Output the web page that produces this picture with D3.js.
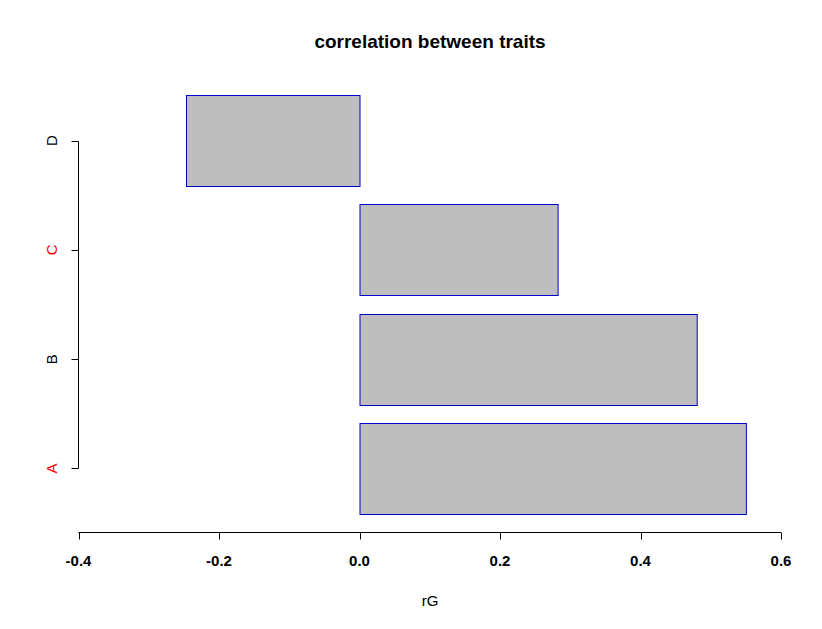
<!DOCTYPE html>
<html><head><meta charset="utf-8">
<script src="https://cdn.jsdelivr.net/npm/d3@7"></script>
<style>body{margin:0;background:#fff}svg{display:block}text{font-family:"Liberation Sans",Arial,sans-serif}</style>
</head><body>
<script>
const categories = ["A","B","C","D"];
const values = [0.55, 0.48, 0.282, -0.247];
const labelColors = ["red","black","red","black"];
const xTicks = [-0.4,-0.2,0.0,0.2,0.4,0.6];
const title = "correlation between traits";
const xLabel = "rG";

const W=822,H=629;
const svg=d3.select("body").append("svg").attr("width",W).attr("height",H);
const x=d3.scaleLinear().domain([-0.4,0.6]).range([78.5,781]);
const y=d3.scaleLinear().domain([0,4.8]).range([532.2,95]);
const barBottom=i=>0.2+1.2*i, barTop=i=>1.2+1.2*i, mid=i=>0.7+1.2*i;

svg.selectAll("rect.bar").data(values).join("rect")
  .attr("x",d=>x(Math.min(0,d))+0.5)
  .attr("y",(d,i)=>Math.round(y(barTop(i)))+0.5)
  .attr("width",d=>Math.abs(x(d)-x(0)))
  .attr("height",(d,i)=>Math.round(y(barBottom(i)))-Math.round(y(barTop(i))))
  .attr("fill","#bebebe").attr("stroke","#0000cd").attr("stroke-width",1);

// x axis
const xa=svg.append("g").attr("transform","translate(0,532.5)");
xa.append("line").attr("x1",x(-0.4)).attr("x2",x(0.6)).attr("stroke","#000");
xa.selectAll("line.t").data(xTicks).join("line").attr("class","t")
  .attr("x1",d=>Math.round(x(d))+0.5).attr("x2",d=>Math.round(x(d))+0.5).attr("y1",0).attr("y2",7).attr("stroke","#000");
xa.selectAll("text").data(xTicks).join("text")
  .attr("x",d=>x(d)).attr("y",33).attr("text-anchor","middle")
  .attr("font-size","15px").attr("font-weight","bold").text(d=>d.toFixed(1));

// y axis
const ya=svg.append("g").attr("transform","translate(78.5,0)");
ya.append("line").attr("y1",Math.round(y(mid(0)))+0.5).attr("y2",Math.round(y(mid(3)))+0.5).attr("stroke","#000");
ya.selectAll("line.t").data(categories).join("line").attr("class","t")
  .attr("y1",(d,i)=>Math.round(y(mid(i)))+0.5).attr("y2",(d,i)=>Math.round(y(mid(i)))+0.5).attr("x1",0).attr("x2",-7).attr("stroke","#000");
ya.selectAll("text").data(categories).join("text")
  .attr("transform",(d,i)=>`translate(-22,${y(mid(i))}) rotate(-90)`)
  .attr("text-anchor","middle").attr("font-size","15px").attr("fill",(d,i)=>labelColors[i]).text(d=>d);

svg.append("text").attr("x",430).attr("y",48).attr("text-anchor","middle")
  .attr("font-size","19px").attr("font-weight","bold").text(title);
svg.append("text").attr("x",430).attr("y",606).attr("text-anchor","middle")
  .attr("font-size","15px").text(xLabel);
</script>
</body></html>
